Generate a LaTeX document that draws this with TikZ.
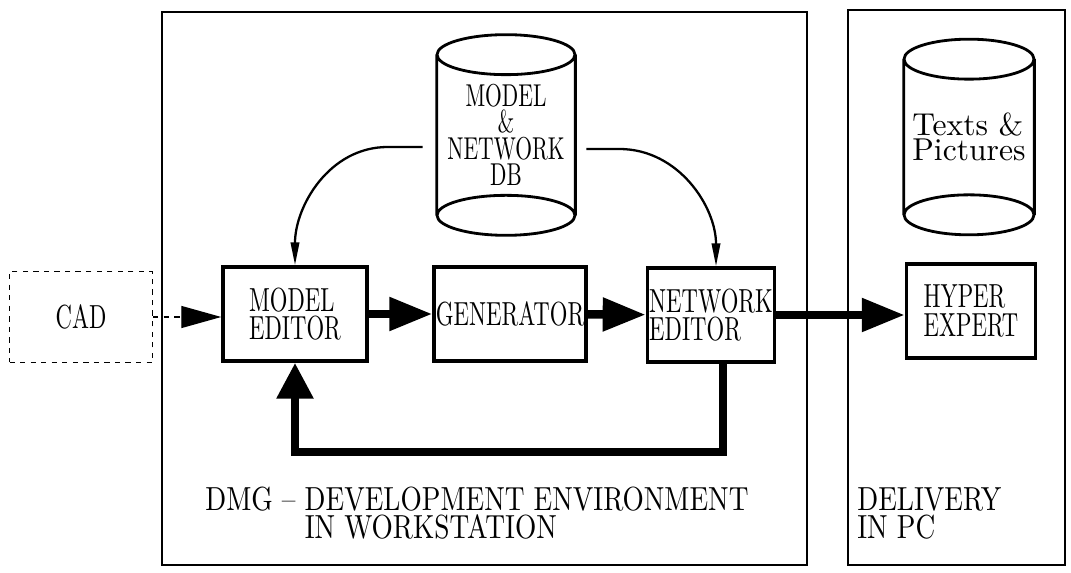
\documentclass[tikz,border=0pt]{standalone}
\usepackage{fontspec}
\setmainfont{lmroman10-regular.otf}[FakeStretch=0.68]
\newfontfamily\widecaps{lmroman10-regular.otf}[FakeStretch=0.82]
\newfontfamily\plainserif{lmroman10-regular.otf}
\usetikzlibrary{arrows.meta}

\newcommand\boxfont{\fontsize{19}{16}\selectfont}
\newcommand\dbfont{\fontsize{18}{15}\selectfont}
\newcommand\capfont{\widecaps\fontsize{19}{16}\selectfont}
\newcommand\mediafont{\plainserif\fontsize{18}{14}\selectfont}

\tikzset{
  frame/.style={line width=1.4pt},
  block/.style={draw, line width=2pt, minimum height=1.88cm, inner sep=1pt, align=left, font=\boxfont},
  cadbox/.style={draw, dashed, line width=0.8pt, minimum width=2.86cm, minimum height=1.82cm, font=\boxfont},
  store/.style={inner sep=0pt, align=center},
  drum/.style={line width=1.6pt},
  fat/.style={line width=4.8pt, -{Triangle[length=0.86cm, width=0.64cm]}},
  backloop/.style={line width=5pt, -{Triangle[length=0.72cm, width=0.7cm]}},
  dashlink/.style={dashed, line width=0.8pt, -{Triangle[length=0.8cm, width=0.44cm]}},
  link/.style={line width=1.3pt, -{Triangle[length=0.46cm, width=0.17cm]}},
  caption/.style={anchor=north west, inner sep=0pt, align=left, font=\capfont}
}

\begin{document}
\begin{tikzpicture}[x=0.02cm, y=-0.02cm]
  \useasboundingbox (0,0) rectangle (1071,573);

  % Cadres
  \draw [frame] (162,12) rectangle (807,565);
  \draw [frame] (848,10) rectangle (1065,565);

  % Blocs
  \node [cadbox] (cad) at (81,317) {CAD};
  \node [block, minimum width=2.88cm] (medit) at (295,314) {MODEL\\EDITOR};
  \node [block, minimum width=3.02cm] (gen) at (510,314) {GENERATOR};
  \node [block, minimum width=2.52cm] (nedit) at (711,315) {NETWORK\\EDITOR};
  \node [block, minimum width=2.58cm] (hyper) at (971,311) {HYPER\\EXPERT};

  % Bases de donnees
  \node [store, minimum width=2.76cm, minimum height=3.2cm, font=\dbfont] (db) at (506,135) {MODEL\\\&\\NETWORK\\DB};
  \node [store, minimum width=2.6cm, minimum height=3.1cm, font=\mediafont, align=left] (media) at (969,137) {Texts \&\\Pictures};
  \foreach \n/\r in {db/1.38cm, media/1.3cm} {
    \draw [drum] (\n.north) ellipse [x radius=\r, y radius=0.4cm]
      (\n.north west) -- (\n.south west)
      (\n.north east) -- (\n.south east)
      (\n.south) ellipse [x radius=\r, y radius=0.4cm];
  }

  % Fleches
  \draw [dashlink] (cad.east) -- (cad.east -| medit.west);
  \draw [fat] (medit) -- (gen);
  \draw [fat] (gen) -- (nedit);
  \draw [fat] (nedit.east) -- (nedit.east -| hyper.west);
  \coordinate (loop) at (723,452);
  \draw [backloop] (nedit.south -| loop) |- (medit.south |- loop) -- (medit.south);
  \draw [link] ([xshift=-0.28cm, yshift=-0.24cm]db.west) -- ++(-35,0) to [out=180, in=90] (medit.north);
  \draw [link] ([xshift=0.22cm, yshift=-0.28cm]db.east) -- ++(33,0) to [out=0, in=90] ([xshift=0.1cm]nedit.north);

  % Legendes
  \node [caption] (dev) at (205,487) {DMG \textendash{} DEVELOPMENT ENVIRONMENT\\\hphantom{DMG \textendash{} }IN WORKSTATION};
  \node [caption] (pc) at (857,487) {DELIVERY\\IN PC};
\end{tikzpicture}
\end{document}
